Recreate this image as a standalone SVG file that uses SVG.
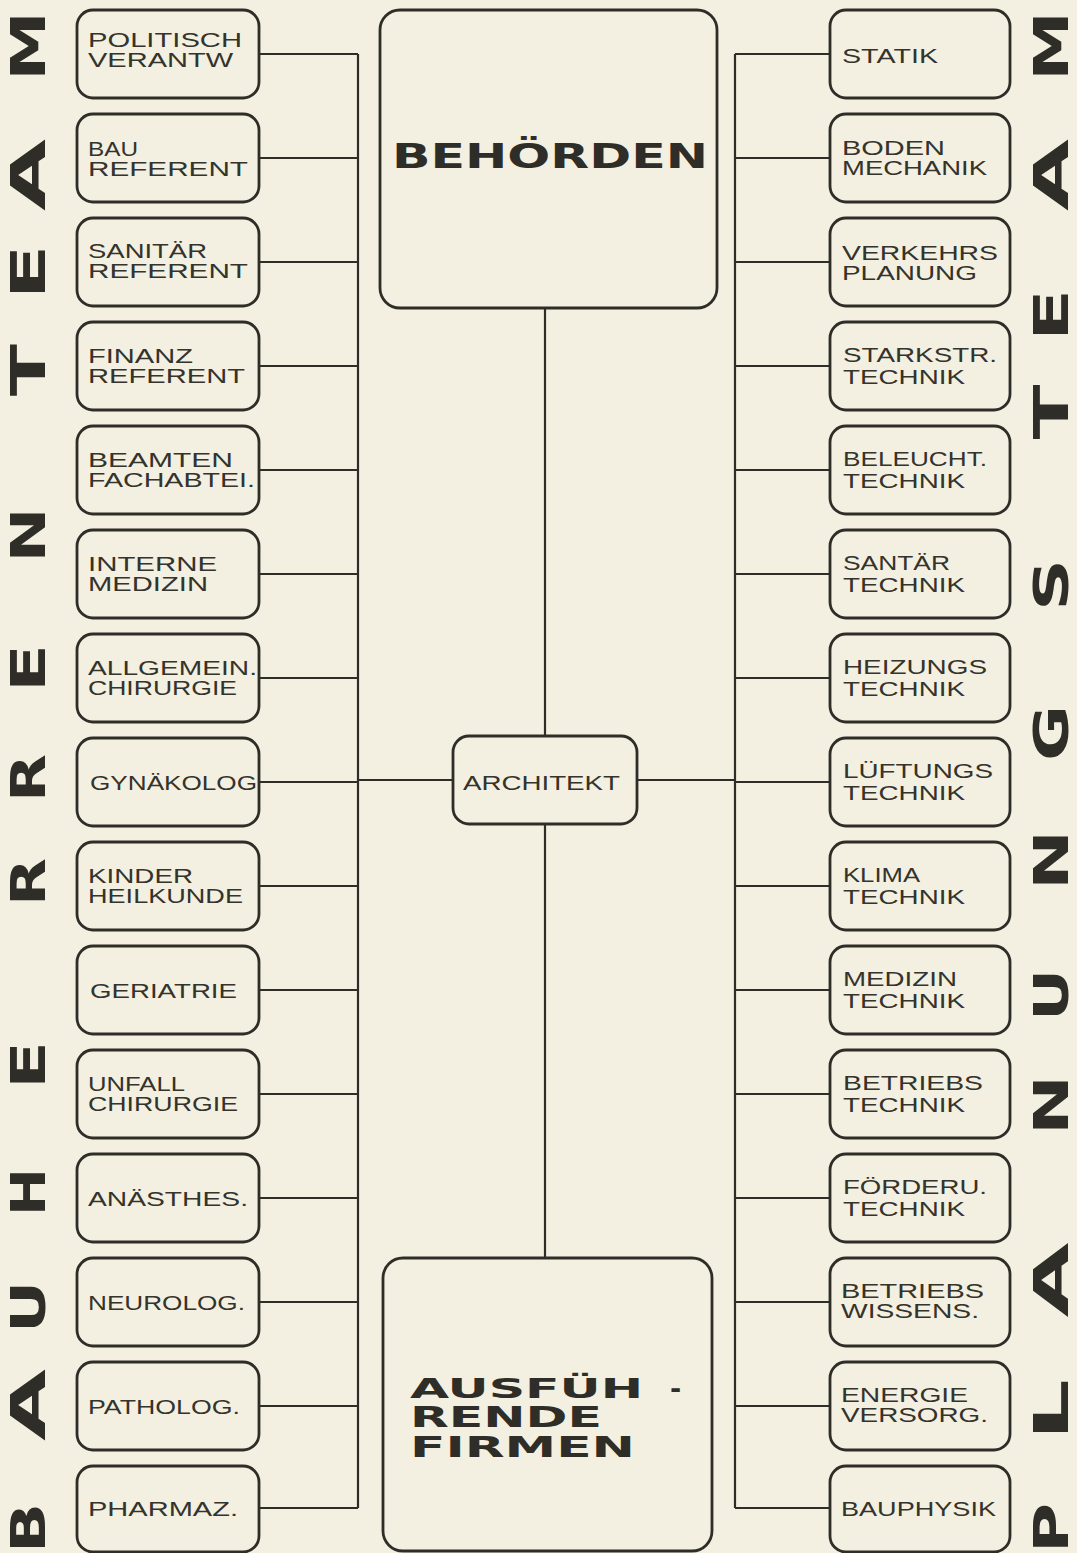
<svg xmlns="http://www.w3.org/2000/svg" width="1077" height="1553" viewBox="0 0 1077 1553">
<style>
.bg{fill:#f3f0e1}
.box{fill:none;stroke:#2e2d27;stroke-width:2.8}
.ln{fill:none;stroke:#2e2d27;stroke-width:2.2}
.lb{font-family:"Liberation Sans",Arial,sans-serif;font-size:21px;fill:#34332c}
.big{font-family:"DejaVu Sans",sans-serif;font-weight:bold;fill:#2e2d27}
.side{font-family:"DejaVu Sans",sans-serif;font-weight:bold;font-size:48px;fill:#2e2d27;text-anchor:middle}
</style>
<rect class="bg" x="0" y="0" width="1077" height="1553"/>

<g id="connectors">
  <path class="ln" d="M358,54 V1508"/>
  <path class="ln" d="M735,54 V1508"/>
  <path class="ln" d="M259,54 H358 M259,158 H358 M259,262 H358 M259,366 H358 M259,470 H358 M259,574 H358 M259,678 H358 M259,782 H358 M259,886 H358 M259,990 H358 M259,1094 H358 M259,1198 H358 M259,1302 H358 M259,1406 H358 M259,1508 H358"/>
  <path class="ln" d="M735,54 H830 M735,158 H830 M735,262 H830 M735,366 H830 M735,470 H830 M735,574 H830 M735,678 H830 M735,782 H830 M735,886 H830 M735,990 H830 M735,1094 H830 M735,1198 H830 M735,1302 H830 M735,1406 H830 M735,1508 H830"/>
  <path class="ln" d="M358,780 H453 M637,780 H735"/>
  <path class="ln" d="M545,308 V736 M545,824 V1258"/>
</g>

<g id="behoerden"><rect class="box" x="380" y="10" width="337" height="298" rx="20"/>
<text class="big" x="392" y="168" font-size="34" textLength="316" lengthAdjust="spacingAndGlyphs">BEHÖRDEN</text></g>

<g id="architekt"><rect class="box" x="453" y="736" width="184" height="88" rx="16"/>
<text class="lb" x="463" y="790" textLength="157" lengthAdjust="spacingAndGlyphs">ARCHITEKT</text></g>

<g id="firmen"><rect class="box" x="383" y="1258" width="329" height="293" rx="20"/>
<text class="big" font-size="27" y="1398"><tspan x="410" textLength="233" lengthAdjust="spacingAndGlyphs">AUSFÜH</tspan> <tspan x="670">-</tspan></text>
<text class="big" x="410" y="1427" font-size="28" textLength="192" lengthAdjust="spacingAndGlyphs">RENDE</text>
<text class="big" x="410" y="1457" font-size="28" textLength="225" lengthAdjust="spacingAndGlyphs">FIRMEN</text></g>

<!-- left column -->
<g id="l0"><rect class="box" x="77" y="10" width="182" height="88" rx="16"/><text class="lb" font-size="19" x="88" y="47" textLength="154" lengthAdjust="spacingAndGlyphs">POLITISCH</text><text class="lb" font-size="19" x="88" y="67" textLength="145" lengthAdjust="spacingAndGlyphs">VERANTW</text></g>
<g id="l1"><rect class="box" x="77" y="114" width="182" height="88" rx="16"/><text class="lb" x="88" y="156" textLength="50" lengthAdjust="spacingAndGlyphs">BAU</text><text class="lb" x="88" y="176" textLength="160" lengthAdjust="spacingAndGlyphs">REFERENT</text></g>
<g id="l2"><rect class="box" x="77" y="218" width="182" height="88" rx="16"/><text class="lb" x="88" y="258" textLength="119" lengthAdjust="spacingAndGlyphs">SANITÄR</text><text class="lb" x="88" y="278" textLength="160" lengthAdjust="spacingAndGlyphs">REFERENT</text></g>
<g id="l3"><rect class="box" x="77" y="322" width="182" height="88" rx="16"/><text class="lb" x="88" y="363" textLength="105" lengthAdjust="spacingAndGlyphs">FINANZ</text><text class="lb" x="88" y="383" textLength="157" lengthAdjust="spacingAndGlyphs">REFERENT</text></g>
<g id="l4"><rect class="box" x="77" y="426" width="182" height="88" rx="16"/><text class="lb" x="88" y="467" textLength="145" lengthAdjust="spacingAndGlyphs">BEAMTEN</text><text class="lb" x="88" y="487" textLength="167" lengthAdjust="spacingAndGlyphs">FACHABTEI.</text></g>
<g id="l5"><rect class="box" x="77" y="530" width="182" height="88" rx="16"/><text class="lb" x="88" y="571" textLength="129" lengthAdjust="spacingAndGlyphs">INTERNE</text><text class="lb" x="88" y="591" textLength="120" lengthAdjust="spacingAndGlyphs">MEDIZIN</text></g>
<g id="l6"><rect class="box" x="77" y="634" width="182" height="88" rx="16"/><text class="lb" x="88" y="675" textLength="169" lengthAdjust="spacingAndGlyphs">ALLGEMEIN.</text><text class="lb" x="88" y="695" textLength="149" lengthAdjust="spacingAndGlyphs">CHIRURGIE</text></g>
<g id="l7"><rect class="box" x="77" y="738" width="182" height="88" rx="16"/><text class="lb" x="90" y="790" textLength="167" lengthAdjust="spacingAndGlyphs">GYNÄKOLOG</text></g>
<g id="l8"><rect class="box" x="77" y="842" width="182" height="88" rx="16"/><text class="lb" x="88" y="883" textLength="105" lengthAdjust="spacingAndGlyphs">KINDER</text><text class="lb" x="88" y="903" textLength="155" lengthAdjust="spacingAndGlyphs">HEILKUNDE</text></g>
<g id="l9"><rect class="box" x="77" y="946" width="182" height="88" rx="16"/><text class="lb" x="90" y="998" textLength="147" lengthAdjust="spacingAndGlyphs">GERIATRIE</text></g>
<g id="l10"><rect class="box" x="77" y="1050" width="182" height="88" rx="16"/><text class="lb" x="88" y="1091" textLength="97" lengthAdjust="spacingAndGlyphs">UNFALL</text><text class="lb" x="88" y="1111" textLength="150" lengthAdjust="spacingAndGlyphs">CHIRURGIE</text></g>
<g id="l11"><rect class="box" x="77" y="1154" width="182" height="88" rx="16"/><text class="lb" x="88" y="1206" textLength="160" lengthAdjust="spacingAndGlyphs">ANÄSTHES.</text></g>
<g id="l12"><rect class="box" x="77" y="1258" width="182" height="88" rx="16"/><text class="lb" x="88" y="1310" textLength="157" lengthAdjust="spacingAndGlyphs">NEUROLOG.</text></g>
<g id="l13"><rect class="box" x="77" y="1362" width="182" height="88" rx="16"/><text class="lb" x="88" y="1414" textLength="152" lengthAdjust="spacingAndGlyphs">PATHOLOG.</text></g>
<g id="l14"><rect class="box" x="77" y="1466" width="182" height="86" rx="16"/><text class="lb" x="88" y="1516" textLength="150" lengthAdjust="spacingAndGlyphs">PHARMAZ.</text></g>

<!-- right column -->
<g id="r0"><rect class="box" x="830" y="10" width="180" height="88" rx="16"/><text class="lb" x="842" y="63" textLength="96" lengthAdjust="spacingAndGlyphs">STATIK</text></g>
<g id="r1"><rect class="box" x="830" y="114" width="180" height="88" rx="16"/><text class="lb" x="842" y="155" textLength="103" lengthAdjust="spacingAndGlyphs">BODEN</text><text class="lb" x="842" y="175" textLength="145" lengthAdjust="spacingAndGlyphs">MECHANIK</text></g>
<g id="r2"><rect class="box" x="830" y="218" width="180" height="88" rx="16"/><text class="lb" x="842" y="260" textLength="156" lengthAdjust="spacingAndGlyphs">VERKEHRS</text><text class="lb" x="842" y="280" textLength="135" lengthAdjust="spacingAndGlyphs">PLANUNG</text></g>
<g id="r3"><rect class="box" x="830" y="322" width="180" height="88" rx="16"/><text class="lb" x="843" y="362" textLength="154" lengthAdjust="spacingAndGlyphs">STARKSTR.</text><text class="lb" x="843" y="384" textLength="122" lengthAdjust="spacingAndGlyphs">TECHNIK</text></g>
<g id="r4"><rect class="box" x="830" y="426" width="180" height="88" rx="16"/><text class="lb" x="843" y="466" textLength="144" lengthAdjust="spacingAndGlyphs">BELEUCHT.</text><text class="lb" x="843" y="488" textLength="122" lengthAdjust="spacingAndGlyphs">TECHNIK</text></g>
<g id="r5"><rect class="box" x="830" y="530" width="180" height="88" rx="16"/><text class="lb" x="843" y="570" textLength="107" lengthAdjust="spacingAndGlyphs">SANTÄR</text><text class="lb" x="843" y="592" textLength="122" lengthAdjust="spacingAndGlyphs">TECHNIK</text></g>
<g id="r6"><rect class="box" x="830" y="634" width="180" height="88" rx="16"/><text class="lb" x="843" y="674" textLength="144" lengthAdjust="spacingAndGlyphs">HEIZUNGS</text><text class="lb" x="843" y="696" textLength="122" lengthAdjust="spacingAndGlyphs">TECHNIK</text></g>
<g id="r7"><rect class="box" x="830" y="738" width="180" height="88" rx="16"/><text class="lb" x="843" y="778" textLength="150" lengthAdjust="spacingAndGlyphs">LÜFTUNGS</text><text class="lb" x="843" y="800" textLength="122" lengthAdjust="spacingAndGlyphs">TECHNIK</text></g>
<g id="r8"><rect class="box" x="830" y="842" width="180" height="88" rx="16"/><text class="lb" x="843" y="882" textLength="77" lengthAdjust="spacingAndGlyphs">KLIMA</text><text class="lb" x="843" y="904" textLength="122" lengthAdjust="spacingAndGlyphs">TECHNIK</text></g>
<g id="r9"><rect class="box" x="830" y="946" width="180" height="88" rx="16"/><text class="lb" x="843" y="986" textLength="114" lengthAdjust="spacingAndGlyphs">MEDIZIN</text><text class="lb" x="843" y="1008" textLength="122" lengthAdjust="spacingAndGlyphs">TECHNIK</text></g>
<g id="r10"><rect class="box" x="830" y="1050" width="180" height="88" rx="16"/><text class="lb" x="843" y="1090" textLength="140" lengthAdjust="spacingAndGlyphs">BETRIEBS</text><text class="lb" x="843" y="1112" textLength="122" lengthAdjust="spacingAndGlyphs">TECHNIK</text></g>
<g id="r11"><rect class="box" x="830" y="1154" width="180" height="88" rx="16"/><text class="lb" x="843" y="1194" textLength="144" lengthAdjust="spacingAndGlyphs">FÖRDERU.</text><text class="lb" x="843" y="1216" textLength="122" lengthAdjust="spacingAndGlyphs">TECHNIK</text></g>
<g id="r12"><rect class="box" x="830" y="1258" width="180" height="88" rx="16"/><text class="lb" x="841" y="1298" textLength="143" lengthAdjust="spacingAndGlyphs">BETRIEBS</text><text class="lb" x="841" y="1318" textLength="138" lengthAdjust="spacingAndGlyphs">WISSENS.</text></g>
<g id="r13"><rect class="box" x="830" y="1362" width="180" height="88" rx="16"/><text class="lb" x="841" y="1402" textLength="127" lengthAdjust="spacingAndGlyphs">ENERGIE</text><text class="lb" x="841" y="1422" textLength="147" lengthAdjust="spacingAndGlyphs">VERSORG.</text></g>
<g id="r14"><rect class="box" x="830" y="1466" width="180" height="86" rx="16"/><text class="lb" x="841" y="1516" textLength="155" lengthAdjust="spacingAndGlyphs">BAUPHYSIK</text></g>

<!-- side lettering -->
<g id="side-left">
<text class="side" transform="translate(45,46) rotate(-90)" textLength="70" lengthAdjust="spacingAndGlyphs">M</text>
<text class="side" transform="translate(45,175) rotate(-90)" textLength="72" lengthAdjust="spacingAndGlyphs">A</text>
<text class="side" transform="translate(45,272) rotate(-90)" textLength="55" lengthAdjust="spacingAndGlyphs">E</text>
<text class="side" transform="translate(45,370) rotate(-90)" textLength="52" lengthAdjust="spacingAndGlyphs">T</text>
<text class="side" transform="translate(45,535) rotate(-90)" textLength="55" lengthAdjust="spacingAndGlyphs">N</text>
<text class="side" transform="translate(45,668) rotate(-90)" textLength="48" lengthAdjust="spacingAndGlyphs">E</text>
<text class="side" transform="translate(45,778) rotate(-90)" textLength="48" lengthAdjust="spacingAndGlyphs">R</text>
<text class="side" transform="translate(45,882) rotate(-90)" textLength="48" lengthAdjust="spacingAndGlyphs">R</text>
<text class="side" transform="translate(45,1065) rotate(-90)" textLength="48" lengthAdjust="spacingAndGlyphs">E</text>
<text class="side" transform="translate(45,1192) rotate(-90)" textLength="48" lengthAdjust="spacingAndGlyphs">H</text>
<text class="side" transform="translate(45,1307) rotate(-90)" textLength="52" lengthAdjust="spacingAndGlyphs">U</text>
<text class="side" transform="translate(45,1405) rotate(-90)" textLength="72" lengthAdjust="spacingAndGlyphs">A</text>
<text class="side" transform="translate(45,1528) rotate(-90)" textLength="50" lengthAdjust="spacingAndGlyphs">B</text>
</g>
<g id="side-right">
<text class="side" transform="translate(1068,46) rotate(-90)" textLength="70" lengthAdjust="spacingAndGlyphs">M</text>
<text class="side" transform="translate(1068,175) rotate(-90)" textLength="72" lengthAdjust="spacingAndGlyphs">A</text>
<text class="side" transform="translate(1068,315) rotate(-90)" textLength="52" lengthAdjust="spacingAndGlyphs">E</text>
<text class="side" transform="translate(1068,412) rotate(-90)" textLength="55" lengthAdjust="spacingAndGlyphs">T</text>
<text class="side" transform="translate(1068,585) rotate(-90)" textLength="52" lengthAdjust="spacingAndGlyphs">S</text>
<text class="side" transform="translate(1068,733) rotate(-90)" textLength="56" lengthAdjust="spacingAndGlyphs">G</text>
<text class="side" transform="translate(1068,860) rotate(-90)" textLength="60" lengthAdjust="spacingAndGlyphs">N</text>
<text class="side" transform="translate(1068,995) rotate(-90)" textLength="52" lengthAdjust="spacingAndGlyphs">U</text>
<text class="side" transform="translate(1068,1105) rotate(-90)" textLength="60" lengthAdjust="spacingAndGlyphs">N</text>
<text class="side" transform="translate(1068,1280) rotate(-90)" textLength="75" lengthAdjust="spacingAndGlyphs">A</text>
<text class="side" transform="translate(1068,1410) rotate(-90)" textLength="62" lengthAdjust="spacingAndGlyphs">L</text>
<text class="side" transform="translate(1068,1528) rotate(-90)" textLength="50" lengthAdjust="spacingAndGlyphs">P</text>
</g>
</svg>
